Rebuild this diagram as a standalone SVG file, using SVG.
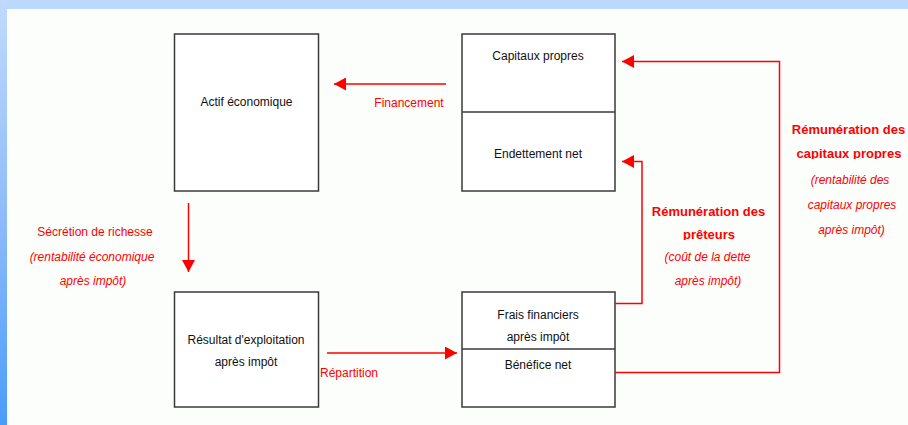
<svg xmlns="http://www.w3.org/2000/svg" width="908" height="425" viewBox="0 0 908 425">
  <defs>
    <linearGradient id="leftStrip" x1="0" y1="0" x2="0" y2="1">
      <stop offset="0" stop-color="#c0dafc"/>
      <stop offset="0.5" stop-color="#8fbcf8"/>
      <stop offset="1" stop-color="#4a9cfc"/>
    </linearGradient>
    <marker id="arrow" viewBox="0 0 12 13" refX="12" refY="6.5" markerWidth="12" markerHeight="13" markerUnits="userSpaceOnUse" orient="auto">
      <path d="M0,0 L12,6.5 L0,13 z" fill="#ff0000"/>
    </marker>
    <clipPath id="clipPreteurs">
      <rect x="600" y="190" width="220" height="50"/>
    </clipPath>
    <clipPath id="clipCapitaux">
      <rect x="780" y="110" width="128" height="49"/>
    </clipPath>
  </defs>
  <style>
    .box { fill: #ffffff; stroke: #3a3a3a; stroke-width: 1.5; }
    .div { stroke: #3a3a3a; stroke-width: 1.5; fill: none; }
    .lbl { font-family: "Liberation Sans", Arial, sans-serif; font-size: 12px; fill: #111111; text-anchor: middle; }
    .red { font-family: "Liberation Sans", Arial, sans-serif; font-size: 12px; fill: #ff0000; text-anchor: middle; }
    .redb { font-family: "Liberation Sans", Arial, sans-serif; font-size: 13px; font-weight: bold; fill: #ff0000; text-anchor: middle; }
    .redi { font-family: "Liberation Sans", Arial, sans-serif; font-size: 12px; font-style: italic; fill: #ff0000; text-anchor: middle; }
    .conn { stroke: #ff0000; stroke-width: 1.5; fill: none; marker-end: url(#arrow); }
  </style>

  <!-- background -->
  <rect x="0" y="0" width="908" height="425" fill="#fcfefc"/>
  <rect x="0" y="0" width="908" height="9" fill="#bcd8fc"/>
  <rect x="0" y="0" width="7" height="425" fill="url(#leftStrip)"/>

  <!-- nodes -->
  <g id="actif">
    <rect class="box" x="174.5" y="34" width="144" height="157"/>
    <text class="lbl" x="246.5" y="106">Actif économique</text>
  </g>
  <g id="passif">
    <rect class="box" x="462" y="34" width="153" height="157"/>
    <line class="div" x1="462" y1="112" x2="615" y2="112"/>
    <text class="lbl" x="538" y="59.5">Capitaux propres</text>
    <text class="lbl" x="538" y="157.5">Endettement net</text>
  </g>
  <g id="resultat">
    <rect class="box" x="174.5" y="292" width="144" height="115"/>
    <text class="lbl" x="246" y="343.5">Résultat d'exploitation</text>
    <text class="lbl" x="246" y="365.5">après impôt</text>
  </g>
  <g id="repartition-box">
    <rect class="box" x="462" y="292" width="153" height="115"/>
    <line class="div" x1="462" y1="349" x2="615" y2="349"/>
    <text class="lbl" x="538" y="318.5">Frais financiers</text>
    <text class="lbl" x="538" y="340.5">après impôt</text>
    <text class="lbl" x="538" y="369">Bénéfice net</text>
  </g>

  <!-- connectors -->
  <g id="connectors">
    <line class="conn" x1="446" y1="84" x2="334" y2="84"/>
    <line class="conn" x1="188.5" y1="203" x2="188.5" y2="272"/>
    <line class="conn" x1="327" y1="353" x2="457" y2="353"/>
    <path class="conn" d="M615,303.5 H642 V161.5 H622"/>
    <path class="conn" d="M615,372.5 H779.5 V61.5 H622"/>
  </g>

  <!-- connector labels -->
  <g id="labels">
    <text class="red" x="409" y="107">Financement</text>
    <text class="red" x="95" y="236">Sécrétion de richesse</text>
    <text class="redi" x="92" y="261">(rentabilité économique</text>
    <text class="redi" x="93" y="285">après impôt)</text>
    <text class="red" x="349" y="377">Répartition</text>

    <g clip-path="url(#clipPreteurs)">
      <text class="redb" x="708.5" y="216">Rémunération des</text>
      <text class="redb" x="709" y="238.5">prêteurs</text>
    </g>
    <text class="redi" x="707.5" y="261">(coût de la dette</text>
    <text class="redi" x="708" y="285">après impôt)</text>

    <g clip-path="url(#clipCapitaux)">
      <text class="redb" x="848.5" y="134">Rémunération des</text>
      <text class="redb" x="849" y="157.5">capitaux propres</text>
    </g>
    <text class="redi" x="850" y="184">(rentabilité des</text>
    <text class="redi" x="852" y="209">capitaux propres</text>
    <text class="redi" x="851.5" y="234">après impôt)</text>
  </g>
</svg>
